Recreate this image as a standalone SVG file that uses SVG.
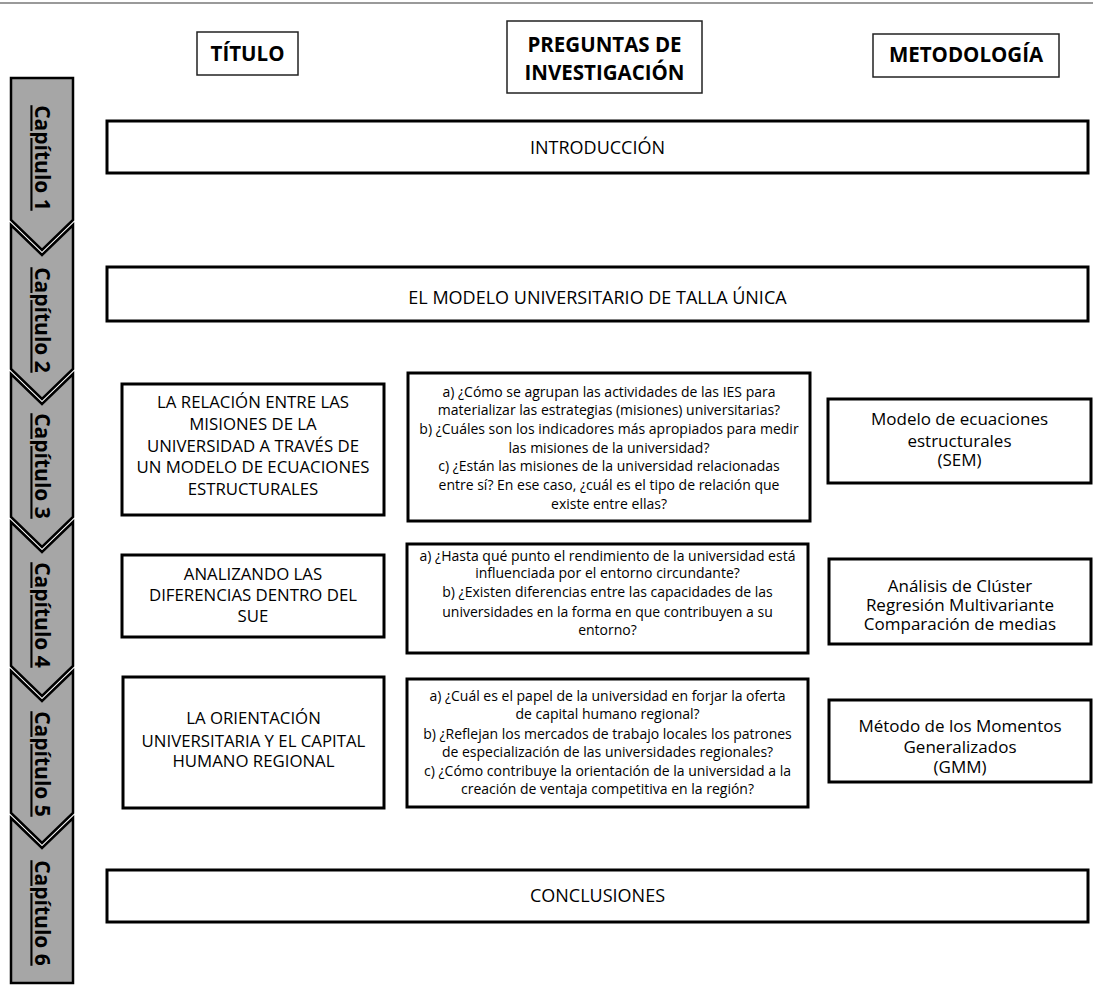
<svg xmlns="http://www.w3.org/2000/svg" width="1093" height="987" viewBox="0 0 1093 987">
<style>
.hdr{fill:#fff;stroke:#222;stroke-width:1.5}
.box{fill:#fff;stroke:#000;stroke-width:3}
.chev{fill:#a6a6a6;stroke:#000;stroke-width:2.5;stroke-linejoin:miter}
text{font-family:"Open Sans","Liberation Sans",sans-serif;fill:#000;text-anchor:middle}
.hb{font-weight:bold;font-size:20.5px}
.cap{font-weight:bold;font-size:21px;text-decoration:underline}
.big{font-size:18px}
.ttl{font-size:16.8px}
.q{font-size:14px}
.m{font-size:17px}
</style>
<rect width="1093" height="987" fill="#fff"/>
<line x1="0" y1="3" x2="1093" y2="3" stroke="#9a9a9a" stroke-width="2"/>

<g id="chapters">
<g id="cap1"><polygon class="chev" points="11,78 73,78 73,220 42,250 11,220"/><text class="cap" transform="translate(34.5,158) rotate(90)">Capítulo 1</text></g>
<g id="cap2"><polygon class="chev" points="11,225 42,255 73,225 73,369 42,399 11,369"/><text class="cap" transform="translate(34.5,320) rotate(90)">Capítulo 2</text></g>
<g id="cap3"><polygon class="chev" points="11,374 42,404 73,374 73,517 42,547 11,517"/><text class="cap" transform="translate(34.5,466) rotate(90)">Capítulo 3</text></g>
<g id="cap4"><polygon class="chev" points="11,522 42,552 73,522 73,666 42,696 11,666"/><text class="cap" transform="translate(34.5,615) rotate(90)">Capítulo 4</text></g>
<g id="cap5"><polygon class="chev" points="11,671 42,701 73,671 73,813 42,843 11,813"/><text class="cap" transform="translate(34.5,764) rotate(90)">Capítulo 5</text></g>
<g id="cap6"><polygon class="chev" points="11,818 42,848 73,818 73,983 11,983"/><text class="cap" transform="translate(34.5,913) rotate(90)">Capítulo 6</text></g>
</g>

<g id="h-titulo"><rect class="hdr" x="197" y="32" width="101" height="43"/><text class="hb" x="247.5" y="61">TÍTULO</text></g>
<g id="h-preguntas"><rect class="hdr" x="507" y="21" width="195" height="72"/><text class="hb" x="604.5" y="52">PREGUNTAS DE</text><text class="hb" x="604.5" y="80">INVESTIGACIÓN</text></g>
<g id="h-metodologia"><rect class="hdr" x="873" y="34" width="186" height="43"/><text class="hb" x="966" y="62">METODOLOGÍA</text></g>

<g id="intro"><rect class="box" x="107" y="121" width="981" height="52"/><text class="big" x="597.5" y="154">INTRODUCCIÓN</text></g>
<g id="modelo"><rect class="box" x="107" y="267" width="981" height="54"/><text class="big" x="597.5" y="304">EL MODELO UNIVERSITARIO DE TALLA ÚNICA</text></g>

<g id="t3"><rect class="box" x="122" y="384" width="262" height="131"/>
<text class="ttl"><tspan x="253" y="407.5">LA RELACIÓN ENTRE LAS</tspan><tspan x="253" y="429.5">MISIONES DE LA</tspan><tspan x="253" y="451.5">UNIVERSIDAD A TRAVÉS DE</tspan><tspan x="253" y="472.5">UN MODELO DE ECUACIONES</tspan><tspan x="253" y="494.5">ESTRUCTURALES</tspan></text></g>
<g id="q3"><rect class="box" x="408" y="373" width="402" height="148"/>
<text class="q"><tspan x="609" y="397">a) ¿Cómo se agrupan las actividades de las IES para</tspan><tspan x="609" y="415">materializar las estrategias (misiones) universitarias?</tspan><tspan x="609" y="434">b) ¿Cuáles son los indicadores más apropiados para medir</tspan><tspan x="609" y="452.5">las misiones de la universidad?</tspan><tspan x="609" y="471">c) ¿Están las misiones de la universidad relacionadas</tspan><tspan x="609" y="490">entre sí? En ese caso, ¿cuál es el tipo de relación que</tspan><tspan x="609" y="509">existe entre ellas?</tspan></text></g>
<g id="m3"><rect class="box" x="828" y="399" width="263" height="84"/>
<text class="m"><tspan x="959.5" y="425">Modelo de ecuaciones</tspan><tspan x="959.5" y="447">estructurales</tspan><tspan x="959.5" y="466">(SEM)</tspan></text></g>

<g id="t4"><rect class="box" x="122" y="555" width="262" height="82"/>
<text class="ttl"><tspan x="253" y="579.5">ANALIZANDO LAS</tspan><tspan x="253" y="601">DIFERENCIAS DENTRO DEL</tspan><tspan x="253" y="622">SUE</tspan></text></g>
<g id="q4"><rect class="box" x="407" y="544" width="401" height="109"/>
<text class="q"><tspan x="607.5" y="561">a) ¿Hasta qué punto el rendimiento de la universidad está</tspan><tspan x="607.5" y="578">influenciada por el entorno circundante?</tspan><tspan x="607.5" y="597">b) ¿Existen diferencias entre las capacidades de las</tspan><tspan x="607.5" y="617">universidades en la forma en que contribuyen a su</tspan><tspan x="607.5" y="635">entorno?</tspan></text></g>
<g id="m4"><rect class="box" x="829" y="559" width="262" height="85"/>
<text class="m"><tspan x="960" y="592">Análisis de Clúster</tspan><tspan x="960" y="611">Regresión Multivariante</tspan><tspan x="960" y="630">Comparación de medias</tspan></text></g>

<g id="t5"><rect class="box" x="123" y="677" width="261" height="131"/>
<text class="ttl"><tspan x="253.5" y="724">LA ORIENTACIÓN</tspan><tspan x="253.5" y="747">UNIVERSITARIA Y EL CAPITAL</tspan><tspan x="253.5" y="767">HUMANO REGIONAL</tspan></text></g>
<g id="q5"><rect class="box" x="407" y="679" width="401" height="128"/>
<text class="q"><tspan x="607.5" y="701">a) ¿Cuál es el papel de la universidad en forjar la oferta</tspan><tspan x="607.5" y="719">de capital humano regional?</tspan><tspan x="607.5" y="739">b) ¿Reflejan los mercados de trabajo locales los patrones</tspan><tspan x="607.5" y="757">de especialización de las universidades regionales?</tspan><tspan x="607.5" y="776">c) ¿Cómo contribuye la orientación de la universidad a la</tspan><tspan x="607.5" y="794">creación de ventaja competitiva en la región?</tspan></text></g>
<g id="m5"><rect class="box" x="829" y="700" width="262" height="82"/>
<text class="m"><tspan x="960" y="732">Método de los Momentos</tspan><tspan x="960" y="753">Generalizados</tspan><tspan x="960" y="773">(GMM)</tspan></text></g>

<g id="conclusiones"><rect class="box" x="107" y="870" width="981" height="52"/><text class="big" x="597.5" y="902">CONCLUSIONES</text></g>
<g id="connectors"></g>
</svg>
